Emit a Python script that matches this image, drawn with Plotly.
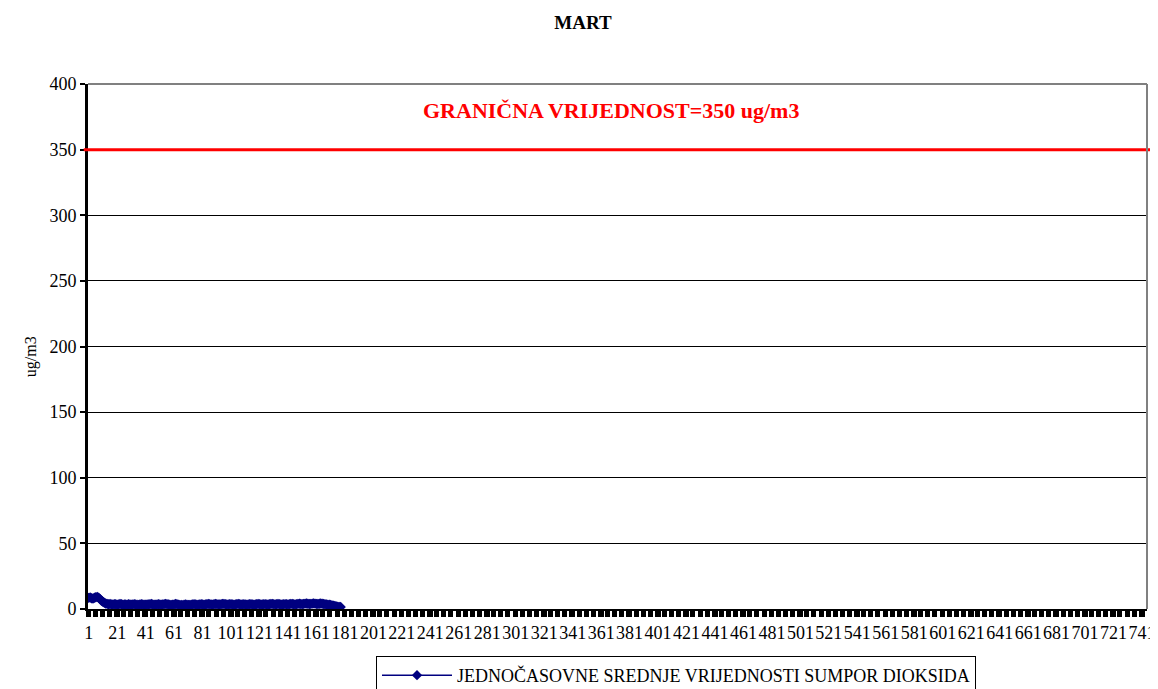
import plotly.graph_objects as go

# hourly SO2 means for March (744 hours), measured only for the first 180
hours = list(range(1, 181))
so2 = [8.5, 8.8, 8.2, 8.0, 8.6, 9.0, 9.2, 8.7, 7.5, 6.3, 5.4, 4.8, 4.2, 3.9,
       3.6, 3.8, 3.5, 3.4, 3.7, 3.6, 3.3, 3.5, 3.8, 3.6, 3.2, 3.4, 3.5, 3.3,
       3.6, 3.4, 3.2, 3.5, 3.7, 3.4, 3.3, 3.1, 3.4, 3.6, 3.5, 3.2, 3.3, 3.5,
       3.4, 3.6, 3.8, 3.5, 3.3, 3.2, 3.4, 3.6, 3.5, 3.3, 3.4, 3.7, 3.9, 3.6,
       3.4, 3.2, 3.0, 3.3, 3.5, 3.8, 3.6, 3.3, 3.1, 3.0, 2.9, 3.2, 3.4, 3.3,
       3.1, 3.0, 3.2, 3.5, 3.7, 3.4, 3.2, 3.3, 3.5, 3.6, 3.4, 3.2, 3.4, 3.6,
       3.8, 3.7, 3.5, 3.3, 3.6, 3.8, 3.7, 3.5, 3.4, 3.6, 3.9, 3.8, 3.6, 3.4,
       3.5, 3.7, 3.6, 3.4, 3.3, 3.5, 3.7, 3.8, 3.6, 3.4, 3.5, 3.6, 3.4, 3.3,
       3.5, 3.7, 3.6, 3.5, 3.3, 3.4, 3.6, 3.8, 3.7, 3.5, 3.4, 3.6, 3.7, 3.5,
       3.4, 3.6, 3.8, 3.9, 3.7, 3.5, 3.6, 3.8, 3.7, 3.5, 3.4, 3.6, 3.7, 3.6,
       3.5, 3.7, 3.9, 3.8, 3.6, 3.5, 3.7, 3.9, 4.0, 3.8, 3.7, 3.9, 4.1, 4.2,
       4.0, 3.8, 3.9, 4.1, 4.3, 4.1, 3.9, 3.8, 4.0, 4.2, 4.0, 3.8, 3.6, 3.5,
       3.3, 3.2, 3.0, 2.8, 2.6, 2.3, 2.0, 1.8, 1.6, 1.5]
n_hours = 744
tick_hours = list(range(1, n_hours + 1, 20))
limit = 350
y_ticks = [0, 50, 100, 150, 200, 250, 300, 350, 400]

serif = "Times New Roman, Liberation Serif, DejaVu Serif, serif"

fig = go.Figure()
fig.add_trace(go.Scatter(
    x=hours, y=so2, mode="lines+markers",
    name="JEDNOČASOVNE SREDNJE VRIJEDNOSTI SUMPOR DIOKSIDA",
    line=dict(color="#000080", width=1.5),
    marker=dict(symbol="diamond", size=8, color="#000080"),
))

# limit value line
fig.add_shape(type="line", xref="paper", yref="y", x0=-0.004, x1=1.006,
              y0=limit, y1=limit, line=dict(color="#ff0000", width=3))
fig.add_annotation(text="<b>GRANIČNA VRIJEDNOST=350 ug/m3</b>", xref="paper", yref="y",
                   x=0.494, y=380, showarrow=False,
                   font=dict(family=serif, size=22, color="#ff0000"))

# y axis title as annotation (axis automargin is off)
fig.add_annotation(text="ug/m3", xref="paper", yref="paper", x=-0.064, y=0.48,
                   textangle=-90, showarrow=False,
                   font=dict(family=serif, size=16, color="black"))

# page has an 8px body margin, so the figure is 8px smaller than the window
fig.update_layout(
    width=1150, height=681,
    margin=dict(l=80, r=11, t=76, b=80, autoexpand=False),
    paper_bgcolor="white", plot_bgcolor="white",
    title=dict(text="<b>MART</b>", x=0.5, y=0.979, xanchor="center", yanchor="middle",
               font=dict(family=serif, size=19, color="black")),
    font=dict(family=serif, color="black"),
    showlegend=True,
    legend=dict(xref="container", yref="container", x=0.32, y=0.0485,
                xanchor="left", yanchor="top", itemwidth=70,
                bordercolor="black", borderwidth=1, bgcolor="white",
                font=dict(family=serif, size=18, color="black")),
    xaxis=dict(range=[0.5, n_hours + 0.5], tickmode="array", tickvals=tick_hours,
               ticktext=[str(t) for t in tick_hours], tickangle=0, automargin=False,
               showgrid=False, zeroline=False,
               showline=True, linecolor="black", linewidth=2, mirror=False,
               ticks="outside", ticklen=6, tickwidth=5, tickcolor="black",
               minor=dict(tickmode="linear", tick0=0.5, dtick=5, ticks="outside",
                          ticklen=6, tickwidth=5, tickcolor="black"),
               tickfont=dict(family=serif, size=18, color="black")),
    yaxis=dict(range=[0, 400], tickvals=y_ticks, automargin=False,
               showgrid=True, gridcolor="black",
               gridwidth=1, zeroline=False, showline=True, linecolor="black",
               linewidth=3, ticks="outside", ticklen=5, tickwidth=2, tickcolor="black",
               tickfont=dict(family=serif, size=18, color="black")),
)

# grey frame on top and right like the original
fig.add_shape(type="line", xref="paper", yref="paper", x0=0, x1=1, y0=1, y1=1,
              line=dict(color="#808080", width=2))
fig.add_shape(type="line", xref="paper", yref="paper", x0=1, x1=1, y0=0, y1=1,
              line=dict(color="#808080", width=2))

fig.write_html("out.html")
